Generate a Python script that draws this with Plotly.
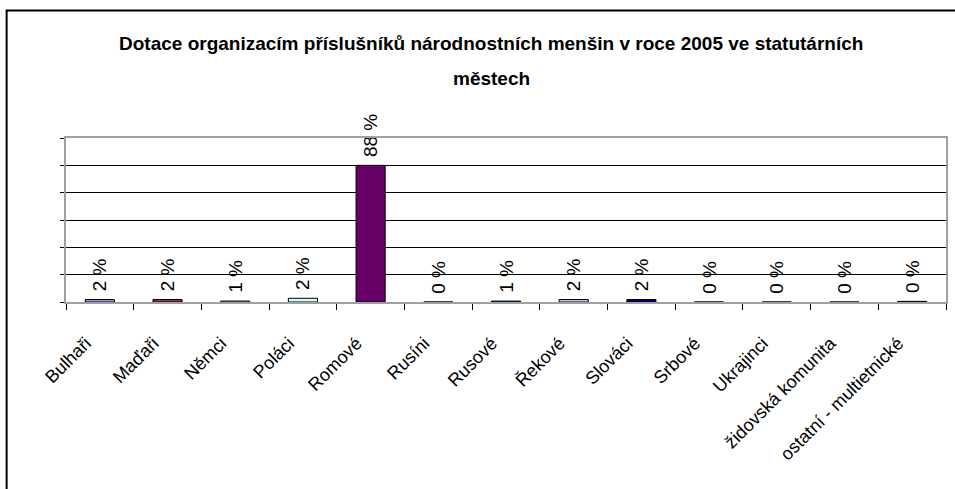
import plotly.graph_objects as go

categories = ["Bulhaři", "Maďaři", "Němci", "Poláci", "Romové", "Rusíni", "Rusové",
              "Řekové", "Slováci", "Srbové", "Ukrajinci", "židovská komunita",
              "ostatní - multietnické"]
values = [1.6, 1.6, 0.6, 2.4, 88.0, 0.0, 0.6, 1.6, 1.6, 0.0, 0.0, 0.0, 0.4]
labels = ["2 %", "2 %", "1 %", "2 %", "88 %", "0 %", "1 %", "2 %", "2 %", "0 %", "0 %", "0 %", "0 %"]
colors = ["#9999FF", "#993366", "#FFFFCC", "#CCFFFF", "#660066", "#FF8080", "#0066CC",
          "#CCCCFF", "#000080", "#FF00FF", "#FFFF00", "#00FFFF", "#800080"]
title_lines = ["Dotace organizacím příslušníků národnostních menšin v roce 2005 ve statutárních",
               "městech"]

W, H = 955, 489
L, R, T, B = 66, 948, 138, 302
FONT = "Liberation Sans, Arial"

fig = go.Figure()
fig.add_trace(go.Bar(
    x=categories, y=values, text=["\u00a0" + t for t in labels],
    textposition="outside", textangle=-90,
    cliponaxis=False, constraintext="none",
    textfont=dict(family=FONT, size=19, color="black"),
    marker=dict(color=colors, line=dict(color="black", width=1)),
))

def px(x):
    return (x - L) / (R - L)

def py(y):
    return (B - y) / (B - T)

fig.update_layout(
    width=W, height=H,
    margin=dict(l=L, r=W - R, t=T, b=H - B),
    paper_bgcolor="white", plot_bgcolor="white",
    showlegend=False, bargap=0.57,
    font=dict(family=FONT, color="black"),
)
fig.update_xaxes(
    showline=True, linecolor="#a0a0a0", linewidth=1.5, mirror=True,
    ticks="outside", tickson="boundaries", ticklen=6, tickcolor="black",
    tickangle=-45, tickfont=dict(size=18, family=FONT),
    ticklabelstandoff=22, ticklabelshift=-14,
    showgrid=False, automargin=False,
)
fig.update_yaxes(
    range=[0, 105.6], dtick=17.6, showticklabels=False,
    showline=True, linecolor="#a0a0a0", linewidth=1.5, mirror=True,
    ticks="outside", ticklen=4, tickcolor="black",
    showgrid=True, gridcolor="black", gridwidth=1, zeroline=False,
)

for line, yy in zip(title_lines, [44, 79]):
    fig.add_annotation(
        text="<b>" + line + "</b>", xref="paper", yref="paper",
        x=px(492), y=py(yy), xanchor="center", yanchor="middle", showarrow=False,
        font=dict(size=19, family=FONT, color="black"),
    )

fig.add_shape(type="rect", xref="paper", yref="paper",
              x0=px(6.5), x1=px(970), y0=py(500), y1=py(10.5),
              line=dict(color="black", width=2), fillcolor="rgba(0,0,0,0)", layer="above")

fig.write_html("out.html", config={"displayModeBar": False},
               post_script="document.body.style.margin='0px';document.body.style.overflow='hidden';")
